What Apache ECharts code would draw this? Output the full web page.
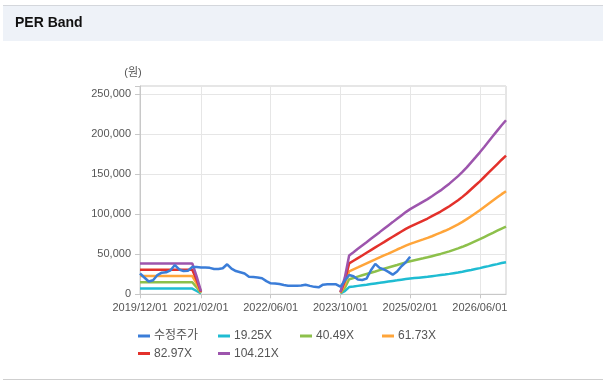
<!DOCTYPE html>
<html>
<head>
<meta charset="utf-8">
<script src="https://cdn.jsdelivr.net/npm/echarts@6/dist/echarts.min.js"></script>
<style>
html,body{margin:0;padding:0;background:#ffffff;}
#chart{width:615px;height:382px;}
</style>
</head>
<body>
<div id="chart"></div>
<script>
var categories = [
'2019/12/01',
'2020/01/01','2020/02/01','2020/03/01','2020/04/01','2020/05/01','2020/06/01','2020/07/01','2020/08/01','2020/09/01','2020/10/01','2020/11/01','2020/12/01',
'2021/01/01','2021/02/01','2021/03/01','2021/04/01','2021/05/01','2021/06/01','2021/07/01','2021/08/01','2021/09/01','2021/10/01','2021/11/01','2021/12/01',
'2022/01/01','2022/02/01','2022/03/01','2022/04/01','2022/05/01','2022/06/01','2022/07/01','2022/08/01','2022/09/01','2022/10/01','2022/11/01','2022/12/01',
'2023/01/01','2023/02/01','2023/03/01','2023/04/01','2023/05/01','2023/06/01','2023/07/01','2023/08/01','2023/09/01','2023/10/01','2023/11/01','2023/12/01',
'2024/01/01','2024/02/01','2024/03/01','2024/04/01','2024/05/01','2024/06/01','2024/07/01','2024/08/01','2024/09/01','2024/10/01','2024/11/01','2024/12/01',
'2025/01/01','2025/02/01','2025/03/01','2025/04/01','2025/05/01','2025/06/01','2025/07/01','2025/08/01','2025/09/01','2025/10/01','2025/11/01','2025/12/01',
'2026/01/01','2026/02/01','2026/03/01','2026/04/01','2026/05/01','2026/06/01','2026/07/01','2026/08/01','2026/09/01','2026/10/01','2026/11/01','2026/12/01'
];
var xTickLabels = ['2019/12/01','2021/02/01','2022/06/01','2023/10/01','2025/02/01','2026/06/01'];
var yTicks = [0, 50000, 100000, 150000, 200000, 250000];
var seriesNames = ['수정주가','19.25X','40.49X','61.73X','82.97X','104.21X'];

var price = [
26000,21000,16000,17500,24000,27000,27500,30000,36500,31000,29000,29500,34000,
34000,33500,33500,33000,31600,31600,32500,37500,32000,29000,27500,26000,22000,21500,21000,20000,16500,
13750,13500,12800,11500,10750,10750,10750,11000,12000,10500,9300,8700,12000,12500,12500,12500,
9500,17000,24000,22500,18500,17900,19600,30000,38000,33000,31000,28000,24500,28500,35000,40000,47000,
null,null,null,null,null,null,null,null,null,null,null,null,null,null,null,null,null,null,null,null,null,null
];
var per1925 = [
7100,7100,7100,7100,7100,7100,7100,7100,7100,7100,7100,7100,7100,4100,1200,
null,null,null,null,null,null,null,null,null,null,null,null,null,null,null,null,null,null,null,null,null,null,null,null,null,null,null,null,null,null,null,
1000,3900,
9000,9700,10500,11300,12000,12800,13600,14300,15100,15900,16700,17400,18200,19000,19600,20200,20800,21400,21900,22600,23300,24000,24700,25500,26400,27200,28200,29300,30400,31600,32700,34000,35200,36500,37700,39000,40100
];
var per4049 = [
15000,15000,15000,15000,15000,15000,15000,15000,15000,15000,15000,15000,15000,8700,1800,
null,null,null,null,null,null,null,null,null,null,null,null,null,null,null,null,null,null,null,null,null,null,null,null,null,null,null,null,null,null,null,
1500,8100,
18800,20400,22100,23700,25300,26900,28500,30200,31800,33400,35000,36600,38300,39900,41300,42500,43700,44900,46200,47600,49000,50400,52000,53600,55500,57300,59300,61500,64000,66400,68800,71500,74100,76700,79400,82000,84400
];
var per6173 = [
22800,22800,22800,22800,22800,22800,22800,22800,22800,22800,22800,22800,22800,13200,2400,
null,null,null,null,null,null,null,null,null,null,null,null,null,null,null,null,null,null,null,null,null,null,null,null,null,null,null,null,null,null,null,
2000,12300,
28700,31200,33600,36100,38600,41100,43500,46000,48500,50900,53400,55900,58300,60800,63000,64800,66700,68500,70400,72500,74700,76900,79300,81800,84600,87300,90400,93800,97500,101200,104900,109000,113000,117000,121000,125000,128700
];
var per8297 = [
30700,30700,30700,30700,30700,30700,30700,30700,30700,30700,30700,30700,30700,17800,3000,
null,null,null,null,null,null,null,null,null,null,null,null,null,null,null,null,null,null,null,null,null,null,null,null,null,null,null,null,null,null,null,
2500,16600,
38600,41900,45200,48500,51900,55200,58500,61800,65100,68500,71800,75100,78400,81700,84600,87100,89600,92100,94600,97500,100400,103300,106600,109900,113700,117400,121600,126100,131100,136100,141000,146400,151800,157200,162600,168000,173000
];
var per10421 = [
38600,38600,38600,38600,38600,38600,38600,38600,38600,38600,38600,38600,38600,22400,3600,
null,null,null,null,null,null,null,null,null,null,null,null,null,null,null,null,null,null,null,null,null,null,null,null,null,null,null,null,null,null,null,
3000,20800,
48500,52600,56800,61000,65100,69300,73500,77600,81800,86000,90100,94300,98500,102600,106300,109400,112500,115700,118800,122400,126100,129700,133900,138100,142800,147500,152700,158400,164700,170900,177200,183900,190700,197500,204300,211000,217300
];

var colors = ['#3b7dd8','#1fbcd2','#8dc04b','#ffa53a','#e3312b','#9d55ad'];
var dataSets = [price, per1925, per4049, per6173, per8297, per10421];
var FONT = '"Liberation Sans", Arial, "Noto Sans CJK KR", sans-serif';

var chart = echarts.init(document.getElementById('chart'), null, {renderer:'canvas'});

var isTick = function (idx, val) { return xTickLabels.indexOf(categories[idx]) >= 0; };

var series = dataSets.map(function (d, k) {
  return {
    name: seriesNames[k],
    type: 'line',
    data: d,
    showSymbol: false,
    symbol: 'none',
    connectNulls: false,
    lineStyle: {width: 2.5, color: colors[k]},
    itemStyle: {color: colors[k]},
    z: k === 0 ? 5 : 2,
    animation: false
  };
});

var legendPos = [[138,330],[218,330],[300,330],[382,330],[138,347.5],[218,347.5]];
var legends = seriesNames.map(function (n, k) {
  return {
    data: [n],
    left: legendPos[k][0],
    top: legendPos[k][1],
    padding: 0,
    icon: 'rect',
    itemWidth: 12,
    itemHeight: 3,
    selectedMode: false,
    textStyle: {fontSize: 12, color: '#555', fontFamily: FONT, padding: [0,0,0,-1]}
  };
});

chart.setOption({
  animation: false,
  backgroundColor: '#ffffff',
  color: colors,
  graphic: [
    {type:'rect', shape:{x:3, y:5, width:600, height:36}, style:{fill:'#eef2f8'}, z:0},
    {type:'line', shape:{x1:3, y1:5.5, x2:603, y2:5.5}, style:{stroke:'#d4d7dc', lineWidth:1}, z:1},
    {type:'text', left:15, top:16, style:{text:'PER Band', font:'bold 14px ' + FONT, fill:'#111'}, z:2},
    {type:'line', shape:{x1:3, y1:379.5, x2:603, y2:379.5}, style:{stroke:'#cfcfcf', lineWidth:1}, z:1},
    {type:'text', x:133, y:73, style:{text:'(원)', font:'11px ' + FONT, fill:'#555', textAlign:'center', textVerticalAlign:'middle'}, z:2}
  ],
  legend: legends,
  grid: {left:140, right:109, top:86, bottom:87.7, show:true, borderColor:'#cccccc', borderWidth:1, backgroundColor:'transparent'},
  xAxis: {
    type: 'category',
    data: categories,
    boundaryGap: false,
    axisLine: {show:true, lineStyle:{color:'#c8c8c8'}},
    axisTick: {show:true, length:4, interval: isTick, lineStyle:{color:'#c8c8c8'}},
    splitLine: {show:true, interval: isTick, lineStyle:{color:'#e6e6e6'}},
    axisLabel: {interval: isTick, margin: 8, fontSize: 11, color:'#555', fontFamily: FONT, hideOverlap: false}
  },
  yAxis: {
    type: 'value',
    min: 0,
    max: 260000,
    interval: 50000,
    axisLine: {show:true, lineStyle:{color:'#c8c8c8'}},
    axisTick: {show:true, length:5, lineStyle:{color:'#c8c8c8'}},
    splitLine: {show:true, lineStyle:{color:'#e6e6e6'}},
    axisLabel: {
      margin: 9, fontSize: 11, color:'#555', fontFamily: FONT,
      formatter: function (v) { return yTicks.indexOf(v) >= 0 ? v.toLocaleString('en-US') : ''; }
    }
  },
  series: series
});
</script>
</body>
</html>
